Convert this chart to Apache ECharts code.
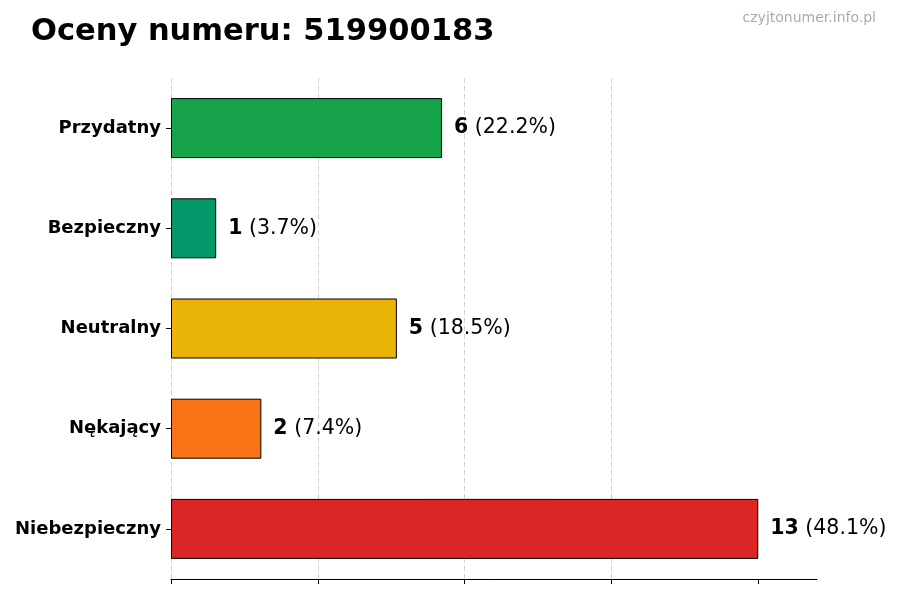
<!DOCTYPE html>
<html>
<head>
<meta charset="utf-8">
<script src="https://cdn.jsdelivr.net/npm/echarts@6/dist/echarts.min.js"></script>
<style>
  html, body { margin: 0; padding: 0; background: #fff; }
  #chart { width: 900px; height: 600px; }
</style>
</head>
<body>
<div id="chart"></div>
<script>
// dane oceny (od dołu do góry)
const categories = ['Niebezpieczny', 'Nękający', 'Neutralny', 'Bezpieczny', 'Przydatny']
const counts = [13, 2, 5, 1, 6]
const percents = ['48.1%', '7.4%', '18.5%', '3.7%', '22.2%']
const barColors = ['#dc2626', '#f97316', '#eab308', '#059669', '#16a34a']
const xTicks = [0, 3.25, 6.5, 9.75, 13]

const font = 'DejaVu Sans'
const chart = echarts.init(document.getElementById('chart'))

chart.setOption({
  animation: false,
  textStyle: { fontFamily: font },
  title: [
    {
      text: 'Oceny numeru: 519900183',
      left: 26,
      top: 12,
      textStyle: { fontSize: 30.5, fontWeight: 'bold', color: '#000', fontFamily: font }
    },
    {
      text: 'czyjtonumer.info.pl',
      right: 19,
      top: 6,
      textStyle: { fontSize: 14, fontWeight: 'normal', color: '#aaaaaa', fontFamily: font }
    }
  ],
  grid: { left: 171, right: 83, top: 78, bottom: 21 },
  xAxis: {
    type: 'value',
    min: 0,
    max: 14.3,
    interval: 3.25,
    axisLine: { show: true, lineStyle: { color: '#000', width: 1 } },
    axisTick: { show: true, length: 5, customValues: xTicks, lineStyle: { color: '#000' } },
    axisLabel: { show: false },
    splitLine: {
      show: true,
      showMaxLine: false,
      lineStyle: { color: '#d0d0d0', type: [5, 3], width: 1 }
    }
  },
  yAxis: {
    type: 'category',
    data: categories,
    axisLine: { show: false },
    axisTick: { show: true, length: 5, alignWithLabel: true, lineStyle: { color: '#000' } },
    axisLabel: { fontSize: 18, fontWeight: 'bold', color: '#000', margin: 10, fontFamily: font },
    splitLine: { show: false }
  },
  series: [{
    type: 'bar',
    barWidth: 60,
    data: counts.map((v, i) => ({
      value: v,
      itemStyle: { color: barColors[i], borderColor: '#000', borderWidth: 1 }
    })),
    label: {
      show: true,
      position: 'right',
      distance: 12,
      formatter: p => `{b|${counts[p.dataIndex]}}{n| (${percents[p.dataIndex]})}`,
      rich: {
        b: { fontSize: 20.5, fontWeight: 'bold', color: '#000', fontFamily: font },
        n: { fontSize: 20.5, color: '#000', fontFamily: font }
      }
    }
  }]
})
</script>
</body>
</html>
